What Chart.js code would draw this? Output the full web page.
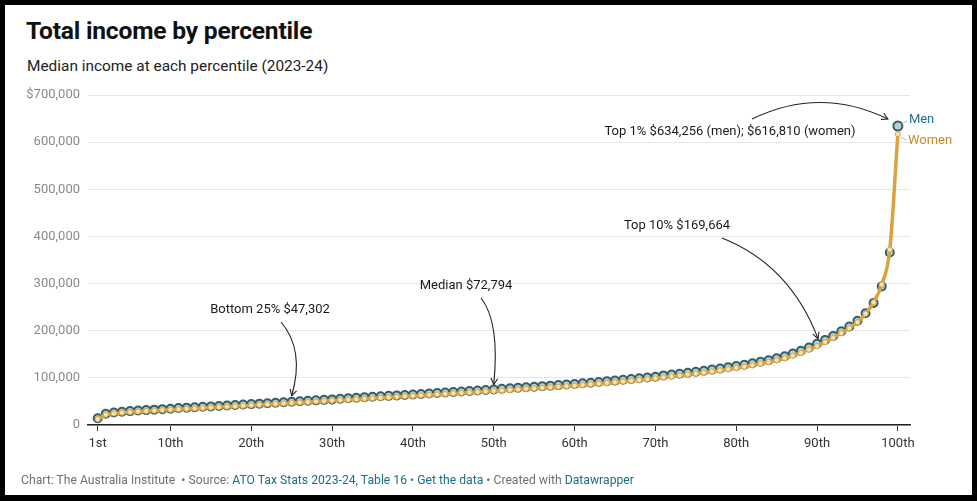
<!DOCTYPE html>
<html>
<head>
<meta charset="utf-8">
<script src="https://cdn.jsdelivr.net/npm/chart.js@4"></script>
<style>
  html, body { margin: 0; padding: 0; background: #000; }
  body { width: 977px; height: 501px; position: relative; overflow: hidden; font-family: Roboto, "Noto Sans", sans-serif; }
  #frame { position: absolute; left: 5px; top: 5px; width: 967px; height: 490px; background: #fff; }
  #titulo { position: absolute; left: 26px; top: 16px; font-size: 24.6px; font-weight: 700; color: #111; letter-spacing: -0.2px; }
  #subtitulo { position: absolute; left: 27px; top: 57px; font-size: 15.4px; color: #222; }
  #pie { position: absolute; left: 21px; top: 473px; font-size: 12.2px; color: #707070; white-space: pre; }
  #pie .link { color: #1d6d84; }
  #grafico { position: absolute; left: 0; top: 0; }
</style>
</head>
<body>
<div id="frame"></div>
<div id="titulo">Total income by percentile</div>
<div id="subtitulo">Median income at each percentile (2023-24)</div>
<canvas id="grafico" width="977" height="501"></canvas>
<div id="pie">Chart: The Australia Institute  • Source: <span class="link">ATO Tax Stats 2023-24, Table 16</span> • <span class="link">Get the data</span> • Created with <span class="link">Datawrapper</span></div>

<script>
// ==== Datos ====
const percentiles = Array.from({ length: 100 }, (_, i) => i + 1);

const ingresosHombres = [
  14500, 24000, 26500, 28200, 29500, 30600, 31600, 32600, 33600, 34500,
  35900, 36800, 37700, 38600, 39500, 40450, 41400, 42350, 43300, 44300,
  45300, 46300, 47300, 48300, 49300, 50300, 51300, 52300, 53300, 54300,
  55800, 56800, 57800, 58800, 59800, 60800, 61800, 62800, 63800, 64800,
  65800, 66850, 67900, 68950, 70000, 71050, 72100, 73150, 74200, 75300,
  76900, 78000, 79100, 80200, 81300, 82400, 83500, 84600, 85800, 87000,
  88400, 89800, 91200, 92700, 94200, 95800, 97400, 99000, 100700, 102400,
  105200, 107000, 108900, 110900, 113000, 115200, 117500, 119900, 122400, 125000,
  127800, 130800, 134000, 137500, 141500, 146000, 151500, 157500, 164500, 172500,
  180500, 189000, 199000, 209000, 221000, 237000, 259000, 294000, 366000, 634256
];

const ingresosMujeres = [
  12500, 22000, 24500, 26200, 27500, 28600, 29600, 30600, 31600, 32500,
  33400, 34300, 35200, 36100, 37000, 37950, 38900, 39850, 40800, 41800,
  42800, 43800, 44800, 45800, 46800, 47800, 48800, 49800, 50800, 51800,
  52800, 53800, 54800, 55800, 56800, 57800, 58800, 59800, 60800, 61800,
  62800, 63850, 64900, 65950, 67000, 68050, 69100, 70150, 71200, 72300,
  73400, 74500, 75600, 76700, 77800, 78900, 80000, 81100, 82300, 83500,
  84900, 86300, 87700, 89200, 90700, 92300, 93900, 95500, 97200, 98900,
  101200, 103000, 104900, 106900, 109000, 111200, 113500, 115900, 118400, 121000,
  123800, 126800, 130000, 133500, 137300, 141500, 147000, 153000, 160000, 167500,
  176000, 185000, 195000, 205500, 218000, 236000, 260000, 298000, 372000, 616810
];

const ticksX = [1, 10, 20, 30, 40, 50, 60, 70, 80, 90, 100];
const etiquetasX = ["1st", "10th", "20th", "30th", "40th", "50th", "60th", "70th", "80th", "90th", "100th"];
const ticksY = [0, 100000, 200000, 300000, 400000, 500000, 600000, 700000];
const etiquetasY = ["0", "100,000", "200,000", "300,000", "400,000", "500,000", "600,000", "$700,000"];

// Anotaciones: texto y percentil al que apunta la flecha
const notasTexto = ["Bottom 25% $47,302", "Median $72,794", "Top 10% $169,664", "Top 1% $634,256 (men); $616,810 (women)"];
const notasPercentil = [25, 50, 90, 100];

const COLOR_HOMBRES = "#365f6a";
const COLOR_MUJERES = "#d9a440";

// Posiciones del texto y curva de la flecha (pixeles)
const notasLayout = [
  { cx: 270, cy: 310, sx: 281, sy: 322, qx: 305, qy: 350, dx: 0, dy: -6 },
  { cx: 466, cy: 286, sx: 481, sy: 298, qx: 500, qy: 322, dx: 0, dy: -5 },
  { cx: 677, cy: 226, sx: 722, sy: 238, qx: 790, qy: 265, dx: 1, dy: -5 },
  { cx: 730, cy: 132, sx: 752, sy: 119, qx: 820, qy: 86, dx: -10, dy: -7 }
];

const pluginNotas = {
  id: "notas",
  afterDatasetsDraw(chart) {
    const ctx = chart.ctx;
    const xs = chart.scales.x;
    const ys = chart.scales.y;
    ctx.save();
    ctx.font = "13px Roboto, 'Noto Sans', sans-serif";
    ctx.textAlign = "center";
    ctx.textBaseline = "middle";
    notasTexto.forEach((t, i) => {
      const l = notasLayout[i];
      const p = notasPercentil[i];
      ctx.fillStyle = "#1a1a1a";
      ctx.fillText(t, l.cx, l.cy);

      const ex = xs.getPixelForValue(p) + l.dx;
      const ey = ys.getPixelForValue(ingresosHombres[p - 1]) + l.dy;
      ctx.strokeStyle = "#222";
      ctx.lineWidth = 1.1;
      ctx.beginPath();
      ctx.moveTo(l.sx, l.sy);
      ctx.quadraticCurveTo(l.qx, l.qy, ex, ey);
      ctx.stroke();

      // punta de flecha
      const ang = Math.atan2(ey - l.qy, ex - l.qx);
      const largo = 7;
      ctx.beginPath();
      ctx.moveTo(ex - largo * Math.cos(ang - 0.5), ey - largo * Math.sin(ang - 0.5));
      ctx.lineTo(ex, ey);
      ctx.lineTo(ex - largo * Math.cos(ang + 0.5), ey - largo * Math.sin(ang + 0.5));
      ctx.stroke();
    });

    // Etiquetas de las series al final
    const xFin = xs.getPixelForValue(100);
    const yH = ys.getPixelForValue(ingresosHombres[99]);
    const yM = ys.getPixelForValue(ingresosMujeres[99]);
    ctx.strokeStyle = "#bbb";
    ctx.lineWidth = 1;
    ctx.beginPath();
    ctx.moveTo(xFin + 4, yH - 2);
    ctx.lineTo(xFin + 9, yH - 5);
    ctx.moveTo(xFin + 3, yM + 3);
    ctx.lineTo(xFin + 9, yM + 6);
    ctx.stroke();
    ctx.textAlign = "left";
    ctx.fillStyle = "#22718a";
    ctx.fillText("Men", xFin + 11, yH - 6);
    ctx.fillStyle = "#c48a28";
    ctx.fillText("Women", xFin + 10, yM + 7);
    ctx.restore();
  }
};

const ctx = document.getElementById("grafico").getContext("2d");
new Chart(ctx, {
  type: "line",
  data: {
    datasets: [
      {
        label: "Men",
        data: percentiles.map((p, i) => ({ x: p, y: ingresosHombres[i] })),
        showLine: false,
        pointRadius: percentiles.map(p => (p === 100 ? 4.5 : 4)),
        pointBorderWidth: 2,
        pointBorderColor: COLOR_HOMBRES,
        pointBackgroundColor: "#b9d0d3",
        order: 2
      },
      {
        label: "Women",
        data: percentiles.map((p, i) => ({ x: p, y: ingresosMujeres[i] })),
        borderColor: COLOR_MUJERES,
        borderWidth: 3.5,
        cubicInterpolationMode: "monotone",
        pointRadius: 2.6,
        pointBorderWidth: 1,
        pointBorderColor: COLOR_MUJERES,
        pointBackgroundColor: "#f4e2ba",
        order: 1
      }
    ]
  },
  options: {
    responsive: false,
    animation: false,
    layout: { padding: { top: 95, right: 67, bottom: 46, left: 0 } },
    plugins: { legend: { display: false }, tooltip: { enabled: false } },
    scales: {
      x: {
        type: "linear",
        min: -0.2,
        max: 101.5,
        afterBuildTicks: (scale) => { scale.ticks = ticksX.map(v => ({ value: v })); },
        afterFit: (scale) => { scale.height = 30; },
        ticks: {
          autoSkip: false,
          maxRotation: 0,
          padding: 5,
          color: "#333",
          font: { family: "Roboto", size: 13 },
          callback: (v, i) => etiquetasX[i]
        },
        grid: { drawOnChartArea: false, drawTicks: true, tickLength: 6, tickColor: "#333" },
        border: { display: true, color: "#222", width: 1.5 }
      },
      y: {
        min: 0,
        max: 700000,
        afterBuildTicks: (scale) => { scale.ticks = ticksY.map(v => ({ value: v })); },
        afterFit: (scale) => { scale.width = 88; },
        ticks: {
          padding: 8,
          color: "#8a8a8a",
          font: { family: "Roboto", size: 13 },
          callback: (v, i) => etiquetasY[i]
        },
        grid: { color: "#e6e6e6", drawTicks: false },
        border: { display: false }
      }
    }
  },
  plugins: [pluginNotas]
});
</script>
</body>
</html>
